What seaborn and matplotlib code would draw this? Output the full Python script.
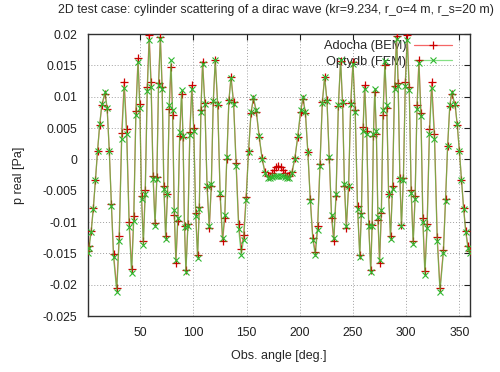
import matplotlib
matplotlib.use("Agg")
import matplotlib.pyplot as plt
import seaborn as sns
import pandas as pd

angles = [1, 2, 4, 6, 8, 10, 12, 14, 17,
          19, 21, 23, 25, 28,
          30.3, 32.7, 35, 37.3, 39.7, 42, 44, 46, 48, 49.7, 51.3, 53,
          54.8, 56.7, 58.5, 60.3, 62.2, 64, 65.7, 67.3, 69, 70.7, 72.3, 74,
          75.7, 77.3, 79, 80.5, 82.1, 83.6, 85.4, 87.2, 89, 90.3, 91.7, 93,
          94.9, 96.7, 98.6, 100.4, 102.2, 104, 105.6, 107.1, 108.7,
          110.8, 112.9, 115, 116.9, 118.7, 120.6, 122.9, 125.2, 127.5,
          129.5, 131.5, 133.4, 135.4, 137.8, 140.2, 142.6, 145,
          147.3, 149.6, 151.9, 154.2, 156.5, 159.2, 161.9, 164.6, 167.3, 170,
          172, 174, 176, 178, 180, 182, 184, 186, 188, 190,
          192.7, 195.4, 198.1, 200.8, 203, 205.3, 207.6, 209.9, 212.3, 214.6,
          216.8, 219, 221.2, 223.4, 225.6, 227.7, 229.9, 232,
          234.1, 236.3, 238.4, 240.2, 242, 243.8, 245.9, 247.9, 250,
          252.1, 254.3, 256.4, 257.9, 259.5, 261, 262.9, 264.8, 266.7,
          268, 269.2, 270.5, 272, 273.5, 275, 276.7, 278.3, 280,
          281.8, 283.5, 285.3, 287.2, 289.1, 291, 292.5, 294.1, 295.6,
          297.4, 299.2, 301, 302.9, 304.7, 306.6, 308.4, 310.2, 312,
          313.9, 315.7, 317.6, 319.7, 321.9, 324, 326.6, 329.2, 331.8,
          335, 337, 339, 341, 342.8, 346, 348, 350, 352, 354, 356, 358, 360]

bem = [-0.0147, -0.0138, -0.0114, -0.0077, -0.0033, 0.0014, 0.0055, 0.0086, 0.0105,
       0.0081, 0.0014, -0.0072, -0.0151, -0.0205,
       -0.0123, 0.0042, 0.0124, 0.0049, -0.0100, -0.0175, -0.0091, 0.0077, 0.0161, 0.0088, -0.0058, -0.0131,
       -0.0049, 0.0116, 0.0198, 0.0123, -0.0027, -0.0102, -0.0028, 0.0122, 0.0196, 0.0116, -0.0043, -0.0123,
       -0.0055, 0.0080, 0.0148, 0.0070, -0.0088, -0.0166, -0.0098, 0.0037, 0.0105, 0.0035, -0.0107, -0.0177,
       -0.0103, 0.0044, 0.0118, 0.0050, -0.0085, -0.0153, -0.0076, 0.0079, 0.0156,
       0.0090, -0.0044, -0.0110, -0.0043, 0.0091, 0.0158, 0.0086, -0.0059, -0.0131,
       -0.0093, 0.0001, 0.0094, 0.0132, 0.0092, -0.0006, -0.0103, -0.0143,
       -0.0120, -0.0060, 0.0014, 0.0074, 0.0097, 0.0075, 0.0035, 0.0002, -0.0020, -0.0027,
       -0.0026, -0.0022, -0.0017, -0.0012, -0.0010, -0.0012, -0.0017, -0.0022, -0.0026, -0.0027,
       -0.0020, 0.0002, 0.0035, 0.0075, 0.0097, 0.0074, 0.0012, -0.0063, -0.0125, -0.0148,
       -0.0107, -0.0008, 0.0091, 0.0132, 0.0094, 0.0001, -0.0093, -0.0131,
       -0.0059, 0.0085, 0.0157, 0.0090, -0.0043, -0.0110, -0.0044, 0.0090, 0.0156,
       0.0079, -0.0075, -0.0152, -0.0085, 0.0051, 0.0118, 0.0045, -0.0103, -0.0176,
       -0.0105, 0.0037, 0.0108, 0.0040, -0.0097, -0.0165, -0.0086, 0.0071, 0.0150,
       0.0082, -0.0055, -0.0123, -0.0043, 0.0117, 0.0197, 0.0122, -0.0029, -0.0104,
       -0.0029, 0.0123, 0.0198, 0.0116, -0.0049, -0.0131, -0.0059, 0.0086, 0.0158,
       0.0074, -0.0094, -0.0178, -0.0103, 0.0048, 0.0123, 0.0041, -0.0124, -0.0206,
       -0.0145, -0.0064, 0.0022, 0.0085, 0.0105, 0.0086, 0.0055, 0.0014, -0.0033, -0.0077, -0.0114, -0.0138, -0.0147]

fem = [-0.0150, -0.0141, -0.0116, -0.0079, -0.0033, 0.0014, 0.0056, 0.0088, 0.0107,
       0.0082, 0.0014, -0.0074, -0.0156, -0.0211,
       -0.0130, 0.0033, 0.0114, 0.0040, -0.0108, -0.0182, -0.0098, 0.0071, 0.0155, 0.0082, -0.0063, -0.0136,
       -0.0055, 0.0109, 0.0190, 0.0116, -0.0032, -0.0106, -0.0032, 0.0118, 0.0192, 0.0112, -0.0047, -0.0127,
       -0.0056, 0.0087, 0.0158, 0.0079, -0.0081, -0.0160, -0.0093, 0.0043, 0.0110, 0.0038, -0.0108, -0.0180,
       -0.0107, 0.0039, 0.0112, 0.0045, -0.0090, -0.0157, -0.0080, 0.0075, 0.0152,
       0.0088, -0.0042, -0.0106, -0.0040, 0.0093, 0.0159, 0.0088, -0.0054, -0.0125,
       -0.0088, 0.0003, 0.0093, 0.0130, 0.0089, -0.0011, -0.0111, -0.0152,
       -0.0128, -0.0065, 0.0012, 0.0075, 0.0099, 0.0078, 0.0037, 0.0001, -0.0022, -0.0029,
       -0.0029, -0.0028, -0.0027, -0.0027, -0.0026, -0.0027, -0.0027, -0.0028, -0.0029, -0.0029,
       -0.0022, 0.0001, 0.0037, 0.0078, 0.0099, 0.0075, 0.0012, -0.0066, -0.0129, -0.0153,
       -0.0112, -0.0011, 0.0090, 0.0131, 0.0093, 0.0003, -0.0088, -0.0126,
       -0.0055, 0.0087, 0.0158, 0.0092, -0.0040, -0.0106, -0.0042, 0.0088, 0.0152,
       0.0075, -0.0079, -0.0156, -0.0089, 0.0046, 0.0113, 0.0040, -0.0106, -0.0179,
       -0.0106, 0.0040, 0.0113, 0.0045, -0.0092, -0.0160, -0.0081, 0.0078, 0.0157,
       0.0086, -0.0056, -0.0127, -0.0047, 0.0112, 0.0192, 0.0117, -0.0032, -0.0107,
       -0.0033, 0.0117, 0.0191, 0.0110, -0.0054, -0.0135, -0.0063, 0.0081, 0.0153,
       0.0069, -0.0100, -0.0184, -0.0110, 0.0040, 0.0114, 0.0033, -0.0130, -0.0211,
       -0.0149, -0.0066, 0.0022, 0.0086, 0.0107, 0.0088, 0.0056, 0.0014, -0.0033, -0.0079, -0.0116, -0.0141, -0.0150]

series_names = ["Adocha (BEM)", "Optydb (FEM)"]
xticks = [50, 100, 150, 200, 250, 300, 350]
yticks = [-0.025, -0.02, -0.015, -0.01, -0.005, 0, 0.005, 0.01, 0.015, 0.02]
ytick_labels = ["-0.025", "-0.02", "-0.015", "-0.01", "-0.005", "0", "0.005", "0.01", "0.015", "0.02"]

sns.set_style("white")
plt.rcParams['font.family'] = ['Liberation Sans', 'DejaVu Sans']

df_b = pd.DataFrame({"angle": angles, "p": bem})
df_f = pd.DataFrame({"angle": angles, "p": fem})

fig = plt.figure(figsize=(5.0, 3.72), dpi=100)
ax = fig.add_axes([0.176, 0.1505, 0.764, 0.758])

sns.lineplot(data=df_b, x="angle", y="p", ax=ax, sort=False, color=(0.95, 0.2, 0.2, 0.75),
             linewidth=0.9, marker="+", markersize=6, markeredgecolor="#cc0000",
             markeredgewidth=0.9, label=series_names[0], zorder=3)
sns.lineplot(data=df_f, x="angle", y="p", ax=ax, sort=False, color=(0.2, 0.8, 0.2, 0.6),
             linewidth=0.9, marker="x", markersize=4.5, markeredgecolor="#30b830",
             markeredgewidth=0.8, label=series_names[1], zorder=4)

ax.set_xlim(1, 360)
ax.set_ylim(-0.025, 0.02)
ax.set_xticks(xticks)
ax.set_yticks(yticks)
ax.set_yticklabels(ytick_labels)
ax.grid(True, color="#a0a0a0", linestyle=(0, (1, 2)), linewidth=0.7)
ax.tick_params(direction="in", length=4, top=True, right=True, labelsize=8.8,
               colors="#202020", pad=8, width=0.8)
for s in ax.spines.values():
    s.set_color("#303030")
    s.set_linewidth(1.0)

ax.set_xlabel("Obs. angle [deg.]", fontsize=9, labelpad=8)
ax.set_ylabel("p real [Pa]", fontsize=9, labelpad=12)
fig.text(0.552, 0.972, "2D test case: cylinder scattering of a dirac wave (kr=9.234, r_o=4 m, r_s=20 m)",
         ha="center", va="center", fontsize=8.9)

leg = ax.legend(loc="upper right", frameon=False, fontsize=9.2, markerfirst=False,
                handlelength=3.0, borderaxespad=0.1, labelspacing=0.25, handletextpad=0.6,
                bbox_to_anchor=(0.97, 1.0))
leg.set_zorder(1)

fig.savefig("out.png", dpi=100)
